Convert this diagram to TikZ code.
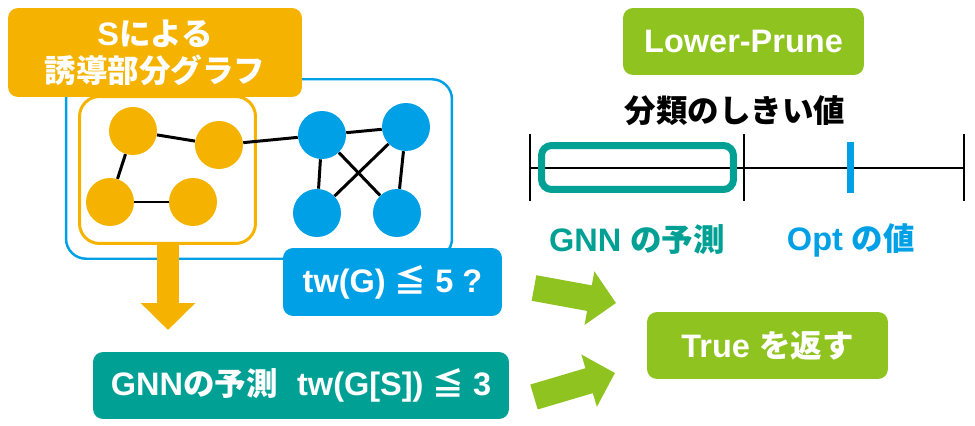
\documentclass[tikz,border=0pt]{standalone}
\usepackage{fontspec}
\setmainfont{Liberation Sans}
\newfontfamily\jpf{Noto Sans CJK JP}[Scale=0.97]
\usetikzlibrary{arrows.meta}
\definecolor{cOrange}{HTML}{F5B300}
\definecolor{cBlue}{HTML}{00A0E6}
\definecolor{cTeal}{HTML}{00A095}
\definecolor{cGreen}{HTML}{8FC31F}
\newcommand\J[1]{{\jpf\bfseries #1}}
\begin{document}
\begin{tikzpicture}[x=0.02cm,y=-0.02cm,
  txt/.style={font=\fontsize{18.5}{22}\selectfont\bfseries},
  fillbox/.style={txt, text=white, fill=#1, rounded corners=0.2cm, inner sep=0pt, align=center},
  gnode/.style={circle, fill=#1, minimum size=0.96cm, inner sep=0pt},
  edge/.style={line width=1.7pt, black},
  frame/.style={draw=#1, rounded corners=0.4cm, inner sep=0pt},
  tickline/.style={line width=1.4pt, black}]
\useasboundingbox (0,0) rectangle (975,426);

% frames
\node[frame=cBlue, line width=1.4pt, minimum width=7.72cm, minimum height=3.59cm] (bframe) at (259,169) {};
\node[frame=cOrange, line width=1.7pt, minimum width=3.52cm, minimum height=2.94cm] (oframe) at (167.5,170) {};

% label
\node[fillbox=cOrange, minimum width=5.88cm, minimum height=1.78cm] (label) at (155,52.5)
  {S\J{による}\\[-1pt]\J{誘導部分グラフ}};

% graph nodes
\node[gnode=cOrange] (a) at (133,131) {};
\node[gnode=cOrange] (b) at (219,145) {};
\node[gnode=cOrange] (c) at (110,202) {};
\node[gnode=cOrange] (d) at (193,202) {};
\node[gnode=cBlue] (e) at (322,135) {};
\node[gnode=cBlue] (f) at (406,127) {};
\node[gnode=cBlue] (g) at (317,213) {};
\node[gnode=cBlue] (h) at (397,213) {};
\draw[edge] (a) -- (b);
\draw[edge] (a) -- (c);
\draw[edge] (c) -- (d);
\draw[edge] (b) -- (e);
\draw[edge] (e) -- (f);
\draw[edge] (e) -- (g);
\draw[edge] (e) -- (h);
\draw[edge] (f) -- (g);
\draw[edge] (f) -- (h);

% question box
\node[fillbox=cBlue, minimum width=4.38cm, minimum height=1.36cm] (tw) at (392.5,282)
  {tw(G) \J{≦} 5 ?};

% orange arrow
\coordinate (oa1) at (168,245);
\coordinate (oa2) at (168,330);
\draw[cOrange, line width=0.46cm, -{Triangle[length=0.54cm, width=1.06cm]}] (oa1) -- (oa2);

% teal box
\node[fillbox=cTeal, minimum width=8.32cm, minimum height=1.34cm] (gnn) at (301,385.5)
  {GNN\J{の予測}\hspace{0.6em}tw(G[S]) \J{≦} 3};

% Lower-Prune
\node[fillbox=cGreen, minimum width=4.82cm, minimum height=1.34cm] (lp) at (743.5,41.5) {Lower-Prune};
\node[txt, text=black] (thr) at (735,111) {\J{分類のしきい値}};

% number line
\coordinate (l0) at (530,168);
\coordinate (l1) at (744,168);
\coordinate (l2) at (964,168);
\draw[tickline] (l0) -- (l2);
\draw[tickline] ([yshift=-0.66cm]l0) -- ([yshift=0.68cm]l0);
\draw[tickline] ([yshift=-0.66cm]l1) -- ([yshift=0.68cm]l1);
\draw[tickline] ([yshift=-0.66cm]l2) -- ([yshift=0.68cm]l2);
\coordinate (opt) at (850,168);
\draw[cBlue, line width=0.14cm] ([yshift=-0.5cm]opt) -- ([yshift=0.52cm]opt);
\node[draw=cTeal, line width=0.14cm, rounded corners=0.2cm, minimum width=3.84cm, minimum height=0.88cm, inner sep=0pt] (pred) at (637.5,167.5) {};

\node[txt, text=cTeal] (gl) at (637,240) {GNN \J{の予測}};
\node[txt, text=cBlue] (ol) at (851,240) {Opt \J{の値}};

% True box
\node[fillbox=cGreen, minimum width=4.82cm, minimum height=1.34cm] (tr) at (767.5,345.5) {True \J{を返す}};

% green arrows
\coordinate (g1a) at (534,288);
\coordinate (g1b) at (616,303);
\coordinate (g2a) at (534,397);
\coordinate (g2b) at (615,373);
\draw[cGreen, line width=0.52cm, -{Triangle[length=0.54cm, width=1.06cm]}] (g1a) -- (g1b);
\draw[cGreen, line width=0.52cm, -{Triangle[length=0.54cm, width=1.06cm]}] (g2a) -- (g2b);
\end{tikzpicture}
\end{document}
